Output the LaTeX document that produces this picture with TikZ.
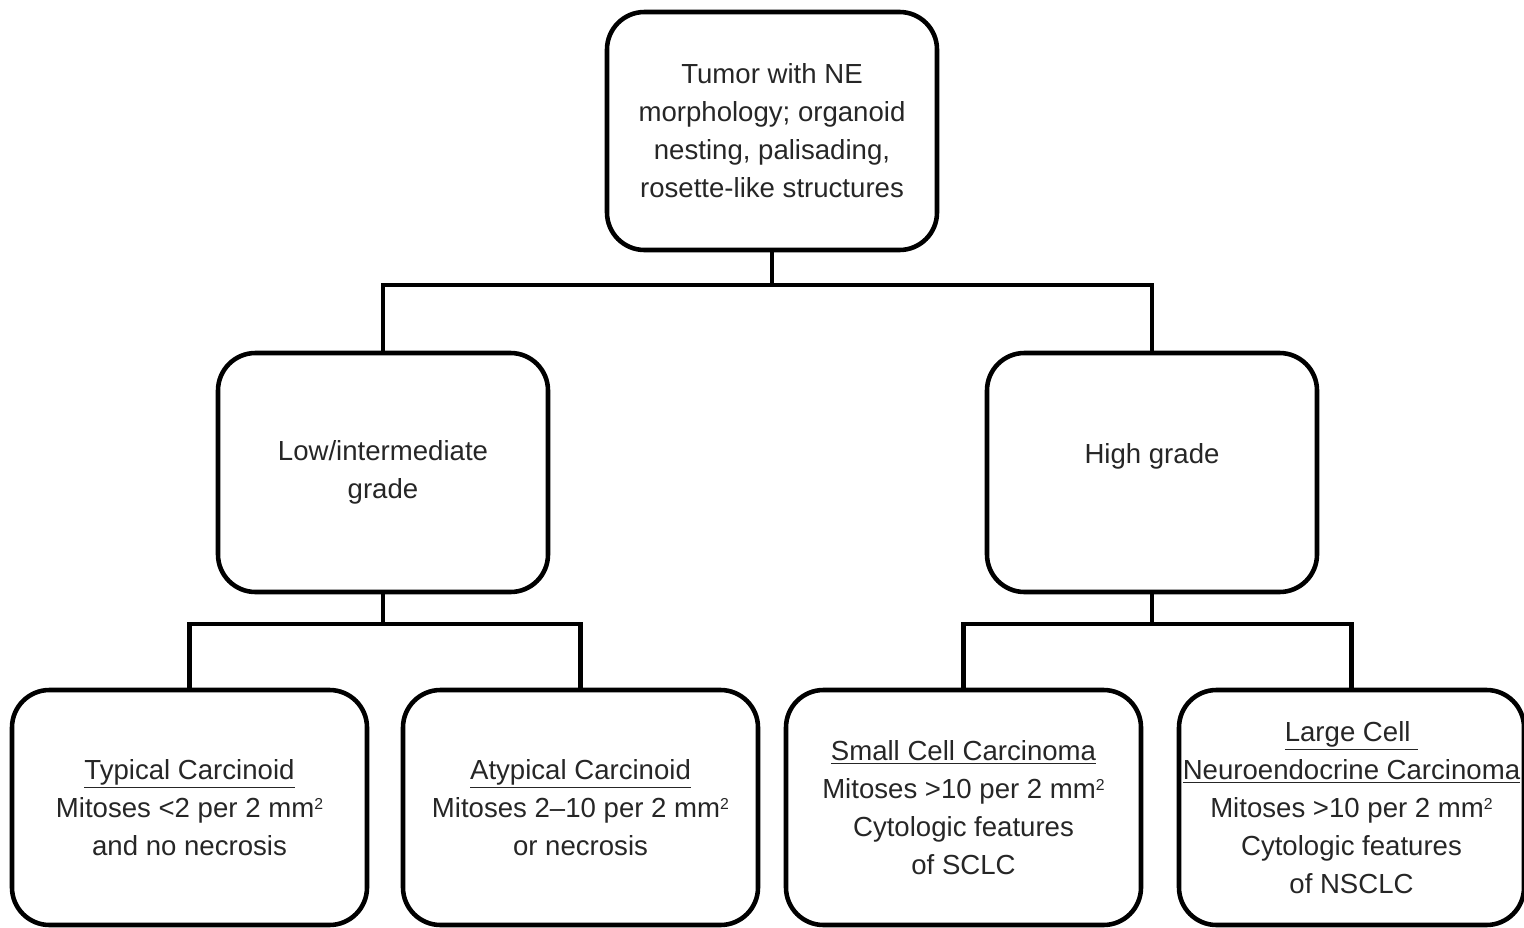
\documentclass[tikz,border=0pt]{standalone}
\usepackage{fontspec}
\setmainfont{Liberation Sans}
\usepackage{tikz}
\newcommand{\mmsq}{mm\raisebox{0.55ex}{\fontsize{9}{9}\selectfont 2}}
\tikzset{
    gradebox/.style={draw=black, line width=2.6pt, rounded corners=0.75cm, align=center,
        inner sep=0pt, text=black!85, font=\fontsize{15.7}{21.6}\selectfont},
    topbox/.style={gradebox, minimum width=6.6cm, minimum height=4.76cm},
    midbox/.style={gradebox, minimum width=6.6cm, minimum height=4.78cm},
    leafbox/.style={gradebox, minimum width=7.1cm, minimum height=4.7cm},
    branch/.style={draw=black, line width=2.4pt}
}

\begin{document}
\begin{tikzpicture}
    \useasboundingbox (0,0) rectangle (30.48,-18.56);

    % root
    \node [topbox] (tumor) at (15.44,-2.62) {Tumor with NE\\morphology; organoid\\nesting, palisading,\\rosette-like structures};

    % grades
    \node [midbox] (lowgrade) at (7.66,-9.45) {Low/intermediate\\grade};
    \node [midbox] (highgrade) at (23.04,-9.45) {High grade\\\mbox{}};

    % for low/intermediate
    \node [leafbox] (typical) at (3.79,-16.15) {\underline{Typical Carcinoid}\\Mitoses <2 per 2 \mmsq\\and no necrosis};
    \node [leafbox] (atypical) at (11.61,-16.15) {\underline{Atypical Carcinoid}\\Mitoses 2–10 per 2 \mmsq\\or necrosis};

    % for high grade
    \node [leafbox] (sclc) at (19.27,-16.15) {\underline{Small Cell Carcinoma}\\Mitoses >10 per 2 \mmsq\\Cytologic features\\of SCLC};
    \node [leafbox, minimum width=6.9cm] (lcnec) at (27.03,-16.15) {\underline{Large Cell\phantom{,}}\\\underline{Neuroendocrine Carcinoma}\\Mitoses >10 per 2 \mmsq\\Cytologic features\\of NSCLC};

    % tree lines
    \draw [branch] (tumor.south) -- ++(0,-0.66) -| (lowgrade.north);
    \draw [branch] (tumor.south) -- ++(0,-0.66) -| (highgrade.north);

    \draw [branch] (lowgrade.south) -- ++(0,-0.6) -| (typical.north);
    \draw [branch] (lowgrade.south) -- ++(0,-0.6) -| (atypical.north);

    \draw [branch] (highgrade.south) -- ++(0,-0.6) -| (sclc.north);
    \draw [branch] (highgrade.south) -- ++(0,-0.6) -| (lcnec.north);
\end{tikzpicture}
\end{document}
